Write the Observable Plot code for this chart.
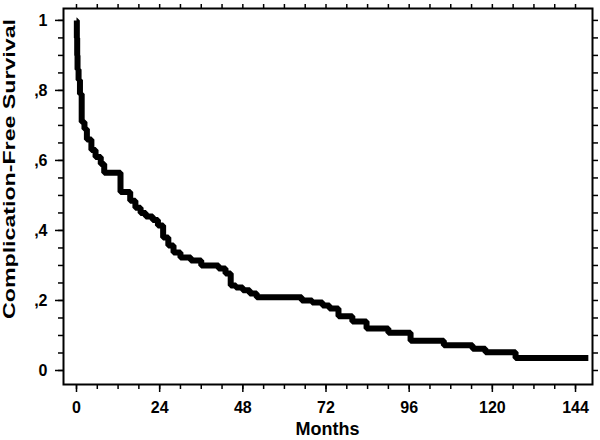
<!DOCTYPE html>
<html><head><meta charset="utf-8">
<script src="https://cdn.jsdelivr.net/npm/d3@7"></script>
<script src="https://cdn.jsdelivr.net/npm/@observablehq/plot@0.6"></script>
<style>body{margin:0;background:#fff} svg{display:block}</style>
</head><body><div id="chart"></div>
<script>
const months = [0, 0.1, 0.2, 0.3, 0.6, 1.0, 1.5, 2.3, 3.0, 4.3, 5.5, 7.0, 8.0, 12.7, 15.5, 17.0, 18.5, 20.0, 22.0, 23.5, 25.0, 26.5, 28.0, 30.0, 33.0, 36.0, 41.0, 43.0, 44.5, 46.0, 48.0, 50.0, 52.0, 65.0, 68.0, 71.0, 73.0, 75.6, 79.6, 83.7, 90.0, 96.4, 106.0, 114.3, 118.0, 126.7, 147.7];
const survival = [1.0, 0.95, 0.9, 0.86, 0.83, 0.79, 0.71, 0.69, 0.66, 0.63, 0.61, 0.59, 0.565, 0.51, 0.485, 0.465, 0.45, 0.44, 0.43, 0.414, 0.38, 0.357, 0.337, 0.323, 0.314, 0.30, 0.291, 0.277, 0.243, 0.237, 0.229, 0.22, 0.209, 0.20, 0.194, 0.186, 0.177, 0.155, 0.14, 0.12, 0.108, 0.085, 0.072, 0.062, 0.052, 0.036, 0.036];
const xTicks = [0, 24, 48, 72, 96, 120, 144];
const xMinorTicks = [0, 6, 12, 18, 24, 30, 36, 42, 48, 54, 60, 66, 72, 78, 84, 90, 96, 102, 108, 114, 120, 126, 132, 138, 144];
const yTicks = [0, 0.2, 0.4, 0.6, 0.8, 1];
const yTickLabels = ["0", ",2", ",4", ",6", ",8", "1"];
const yMinorTicks = [0, 0.05, 0.1, 0.15, 0.2, 0.25, 0.3, 0.35, 0.4, 0.45, 0.5, 0.55, 0.6, 0.65, 0.7, 0.75, 0.8, 0.85, 0.9, 0.95, 1];
const xLabel = "Months";
const yLabel = "Complication-Free Survival";

const data = months.map((m, i) => ({m, s: survival[i]}));
const font = "'Liberation Sans', Arial, sans-serif";

const chart = Plot.plot({
  width: 600, height: 440,
  marginLeft: 63, marginRight: 8, marginTop: 8, marginBottom: 56,
  style: {fontFamily: font, fontWeight: "bold", fontSize: "16px", color: "#000", background: "#fff", overflow: "visible"},
  x: {domain: [-3.75, 148.9], label: null},
  y: {domain: [-0.04, 1.034], label: null},
  marks: [
    Plot.axisX({ticks: xMinorTicks, tickSize: 5, text: null, label: null, strokeWidth: 1.5}),
    Plot.axisX({ticks: xTicks, tickSize: 8, tickPadding: 9, label: null, strokeWidth: 1.5, tickFormat: d => String(d)}),
    Plot.axisX({ticks: xMinorTicks, anchor: "top", tickSize: 5, text: null, label: null, strokeWidth: 1.5}),
    Plot.axisY({ticks: yMinorTicks, tickSize: 5, text: null, label: null, strokeWidth: 1.5}),
    Plot.axisY({ticks: yTicks, tickSize: 8, tickPadding: 8, label: null, strokeWidth: 1.5, tickFormat: d => yTickLabels[yTicks.indexOf(d)]}),
    Plot.axisY({ticks: yMinorTicks, anchor: "right", tickSize: 5, text: null, label: null, strokeWidth: 1.5}),
    Plot.frame({stroke: "#000", strokeWidth: 2}),
    Plot.line(data, {x: "m", y: "s", curve: "step-after", stroke: "#000", strokeWidth: 6, strokeLinejoin: "miter", strokeLinecap: "butt"})
  ]
});

const svg = d3.select(chart);
svg.append("text")
  .attr("x", 327.5).attr("y", 435)
  .attr("text-anchor", "middle")
  .attr("font-size", 18).attr("font-weight", "bold")
  .attr("fill", "#000")
  .text(xLabel);
svg.append("text")
  .attr("transform", "translate(15,169) rotate(-90)")
  .attr("text-anchor", "middle")
  .attr("font-size", 16).attr("font-weight", "bold")
  .attr("fill", "#000")
  .attr("textLength", 300).attr("lengthAdjust", "spacingAndGlyphs")
  .text(yLabel);

document.getElementById("chart").appendChild(chart);
</script>
</body></html>
